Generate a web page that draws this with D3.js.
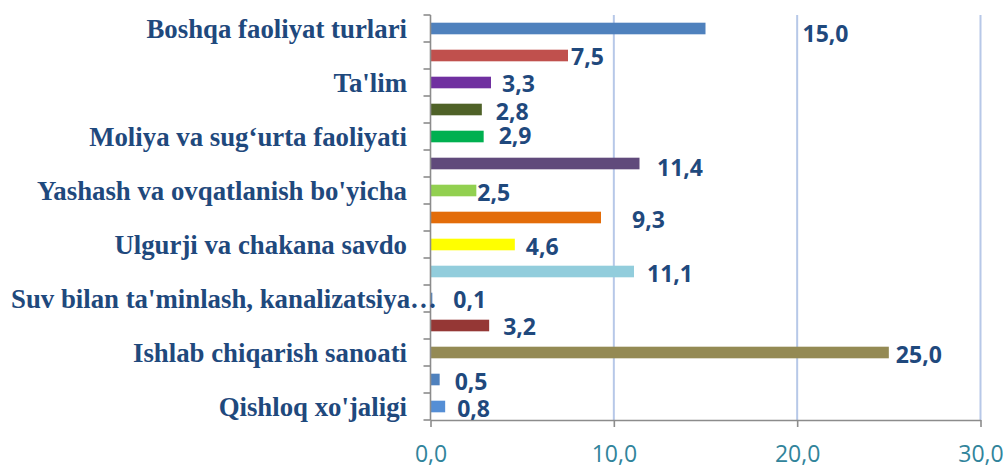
<!DOCTYPE html>
<html>
<head>
<meta charset="utf-8">
<script src="https://cdn.jsdelivr.net/npm/d3@7"></script>
<style>
  html, body { margin: 0; padding: 0; background: #ffffff; }
  svg { display: block; }
</style>
</head>
<body>
<svg id="chart" width="1005" height="466"></svg>
<script>
// ---- data (top to bottom as drawn) ----
const categories = [
  "Boshqa faoliyat turlari",
  "",
  "Ta'lim",
  "",
  "Moliya va sug\u2018urta faoliyati",
  "",
  "Yashash va ovqatlanish bo'yicha",
  "",
  "Ulgurji va chakana savdo",
  "",
  "Suv bilan ta'minlash, kanalizatsiya\u2026",
  "",
  "Ishlab chiqarish sanoati",
  "",
  "Qishloq xo'jaligi"
];
const values = [15.0, 7.5, 3.3, 2.8, 2.9, 11.4, 2.5, 9.3, 4.6, 11.1, 0.1, 3.2, 25.0, 0.5, 0.8];
const barColors = [
  "#4f81bd", "#c0504d", "#7030a0", "#4f6228", "#00b050",
  "#604a7b", "#92d050", "#e36c09", "#ffff00", "#92cddc",
  "#4f81bd", "#953735", "#948a54", "#4f81bd", "#558ed5"
];
const xTicks = [0, 10, 20, 30];

// ---- layout ----
const svg = d3.select("#chart");
svg.append("rect").attr("width", 1005).attr("height", 466).attr("fill", "#ffffff");

const plot = { left: 430.5, right: 980.5, top: 15, bottom: 420 };
const x = d3.scaleLinear().domain([0, 30]).range([plot.left, plot.right]);
const idx = d3.range(categories.length);
const y = d3.scaleBand().domain(idx).range([plot.top, plot.bottom])
  .paddingInner(0.57).paddingOuter(0.285);

// label nudges (pixel placement of data labels as in the reference)
const labelDx = [97, 3, 11, 14, 15, 17.5, 1, 31, 11, 13, 21, 14, 7, 15, 12];
const labelDy = [13, 9.5, 9, 10.5, 7.5, 12, 10.5, 10, 10.5, 10.5, 9.5, 9.5, 10.8, 10.5, 10.5];

const textColor = "#1f497d";
const axisColor = "#8c8c8c";

// gridlines
svg.append("g").selectAll("line").data(xTicks.filter(d => d > 0)).join("line")
  .attr("x1", d => x(d)).attr("x2", d => x(d))
  .attr("y1", plot.top).attr("y2", plot.bottom)
  .attr("stroke", "#b7c8e8").attr("stroke-width", 2);

// bars
svg.append("g").selectAll("rect").data(idx).join("rect")
  .attr("x", x(0))
  .attr("y", i => y(i))
  .attr("width", i => x(values[i]) - x(0))
  .attr("height", y.bandwidth())
  .attr("fill", i => barColors[i]);

// x axis
const xAxis = d3.axisBottom(x).tickValues(xTicks).tickSize(7).tickSizeOuter(0)
  .tickFormat(d => d.toFixed(1).replace(".", ","));
const gx = svg.append("g").attr("transform", `translate(0,${plot.bottom})`).call(xAxis);
gx.select(".domain").attr("stroke", axisColor).attr("stroke-width", 1.6);
gx.selectAll(".tick line").attr("stroke", axisColor).attr("stroke-width", 1.6);
gx.selectAll(".tick text")
  .attr("y", 42).attr("dy", 0)
  .attr("fill", "#31849b")
  .style("font-family", "'Open Sans', sans-serif")
  .style("font-size", "23px")
  .style("font-weight", 400);

// y axis line and boundary ticks
const step = y.step();
const boundaries = d3.range(categories.length + 1).map(k => plot.top + k * step);
svg.append("line")
  .attr("x1", x(0)).attr("x2", x(0))
  .attr("y1", plot.top).attr("y2", plot.bottom)
  .attr("stroke", axisColor).attr("stroke-width", 1.6);
svg.append("g").selectAll("line").data(boundaries).join("line")
  .attr("x1", x(0) - 7).attr("x2", x(0))
  .attr("y1", d => d).attr("y2", d => d)
  .attr("stroke", axisColor).attr("stroke-width", 1.6);

// category labels
const labelRight = 407;
const labelLeftLimit = 11;
const catText = svg.append("g").selectAll("text").data(idx.filter(i => categories[i] !== "")).join("text")
  .attr("x", labelRight)
  .attr("y", i => y(i) + y.bandwidth() / 2)
  .attr("dy", "0.35em")
  .attr("text-anchor", "end")
  .attr("fill", textColor)
  .style("font-family", "'Liberation Serif', 'Times New Roman', serif")
  .style("font-weight", 700)
  .style("font-size", "26.8px")
  .text(i => categories[i]);
catText.each(function() {
  const w = this.getComputedTextLength();
  if (w > labelRight - labelLeftLimit) {
    d3.select(this).attr("text-anchor", "start").attr("x", labelLeftLimit);
  }
});

// value labels
svg.append("g").selectAll("text").data(idx).join("text")
  .attr("x", i => x(values[i]) + labelDx[i])
  .attr("y", i => y(i) + y.bandwidth() / 2 + labelDy[i])
  .attr("fill", textColor)
  .style("font-family", "'Open Sans', sans-serif")
  .style("font-weight", 700)
  .style("font-size", "23px")
  .text(i => values[i].toFixed(1).replace(".", ","));
</script>
</body>
</html>
